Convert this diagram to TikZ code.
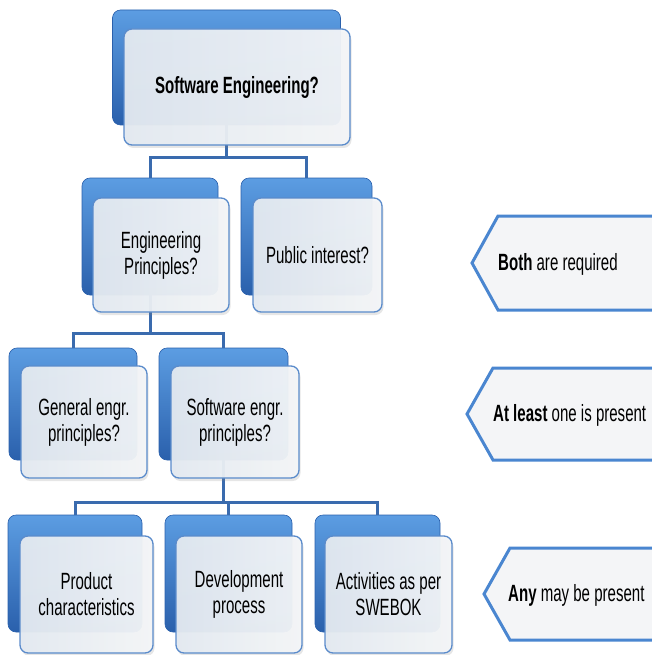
\documentclass[tikz,border=0pt]{standalone}
\usepackage{fontspec}
\setmainfont{Liberation Sans}[FakeStretch=0.64]
\usetikzlibrary{shadows}
\definecolor{bluetop}{HTML}{5C9DE2}
\definecolor{bluebot}{HTML}{2A60AC}
\definecolor{frontfillL}{HTML}{E4EAF1}
\definecolor{frontfillR}{HTML}{F4F6F8}
\definecolor{frontedge}{HTML}{5A8BCB}
\definecolor{connblue}{HTML}{3A6BAE}
\definecolor{tagedge}{HTML}{4A86D0}
\definecolor{tagfill}{HTML}{F4F5F7}
\begin{document}
\begin{tikzpicture}[x=1pt,y=-1pt,
  backbox/.style={rectangle,rounded corners=8pt,inner sep=0pt,outer sep=0pt,
    top color=bluetop,bottom color=bluebot,draw=bluebot,line width=0.6pt},
  frontbox/.style={rectangle,rounded corners=8pt,inner sep=0pt,outer sep=0pt,
    left color=frontfillL,right color=frontfillR,draw=frontedge,line width=1.3pt,
    fill opacity=0.95,text opacity=1,align=center,
    font=\fontsize{23.5}{26}\selectfont,
    drop shadow={opacity=0.2,shadow xshift=1.5pt,shadow yshift=-3pt}},
  conn/.style={draw=connblue,line width=3pt},
  tagshape/.style={draw=tagedge,fill=tagfill,line width=3pt,line join=miter},
  tagtext/.style={anchor=west,inner sep=0pt,font=\fontsize{23.5}{26}\selectfont}
]
\useasboundingbox (0,0) rectangle (651,655);
% back boxes
\node[backbox,minimum width=228pt,minimum height=115pt] (topb) at (226.5,67.5) {};
\node[backbox,minimum width=136pt,minimum height=117pt] (epb) at (150,236.5) {};
\node[backbox,minimum width=131pt,minimum height=117pt] (pib) at (306.5,236.5) {};
\node[backbox,minimum width=128pt,minimum height=112pt] (geb) at (73,404) {};
\node[backbox,minimum width=129pt,minimum height=112pt] (seb) at (223.5,404) {};
\node[backbox,minimum width=134pt,minimum height=117pt] (pcb) at (75,573.5) {};
\node[backbox,minimum width=127pt,minimum height=117pt] (dpb) at (228.5,573.5) {};
\node[backbox,minimum width=125pt,minimum height=117pt] (asb) at (377.5,573.5) {};
% connectors
\coordinate (j1) at (226.5,158);
\coordinate (j2) at (150,333);
\coordinate (j3) at (223.5,502);
\draw[conn] (topb.south) -- (j1);
\draw[conn] (epb.north) |- (j1) -| (pib.north);
\draw[conn] (epb.south) -- (j2);
\draw[conn] (geb.north) |- (j2) -| (seb.north);
\draw[conn] (seb.south) -- (j3);
\draw[conn] (pcb.north) |- (j3) -| (asb.north);
\draw[conn] (j3 -| dpb.north) -- (dpb.north);
% front boxes
\node[frontbox,minimum width=226pt,minimum height=116pt] (topf) at (237,87) {\textbf{Software Engineering?}};
\node[frontbox,minimum width=136pt,minimum height=114pt] (epf) at (161,255) {Engineering\\Principles?};
\node[frontbox,minimum width=129pt,minimum height=114pt] (pif) at (317.5,255) {Public interest?};
\node[frontbox,minimum width=126pt,minimum height=112pt] (gef) at (84,422) {General engr.\\principles?};
\node[frontbox,minimum width=128pt,minimum height=112pt] (sef) at (235,422) {Software engr.\\principles?};
\node[frontbox,minimum width=133pt,minimum height=117pt] (pcf) at (86.5,594.5) {Product\\characteristics};
\node[frontbox,minimum width=126pt,minimum height=117pt] (dpf) at (239,594.5) {Development\\process};
\node[frontbox,minimum width=127pt,minimum height=117pt] (asf) at (388.5,594.5) {Activities as per\\SWEBOK};
% tags
\draw[tagshape] (498,216) -- (665,216) -- (665,310) -- (498,310) -- (472,263) -- cycle;
\node[tagtext] (tag1) at (498,264) {\textbf{Both} are required};
\draw[tagshape] (493,368) -- (665,368) -- (665,460) -- (493,460) -- (467,414) -- cycle;
\node[tagtext] (tag2) at (493,415) {\textbf{At least} one is present};
\draw[tagshape] (510,548) -- (665,548) -- (665,640) -- (510,640) -- (484,594) -- cycle;
\node[tagtext] (tag3) at (508,595) {\textbf{Any} may be present};
\end{tikzpicture}
\end{document}
